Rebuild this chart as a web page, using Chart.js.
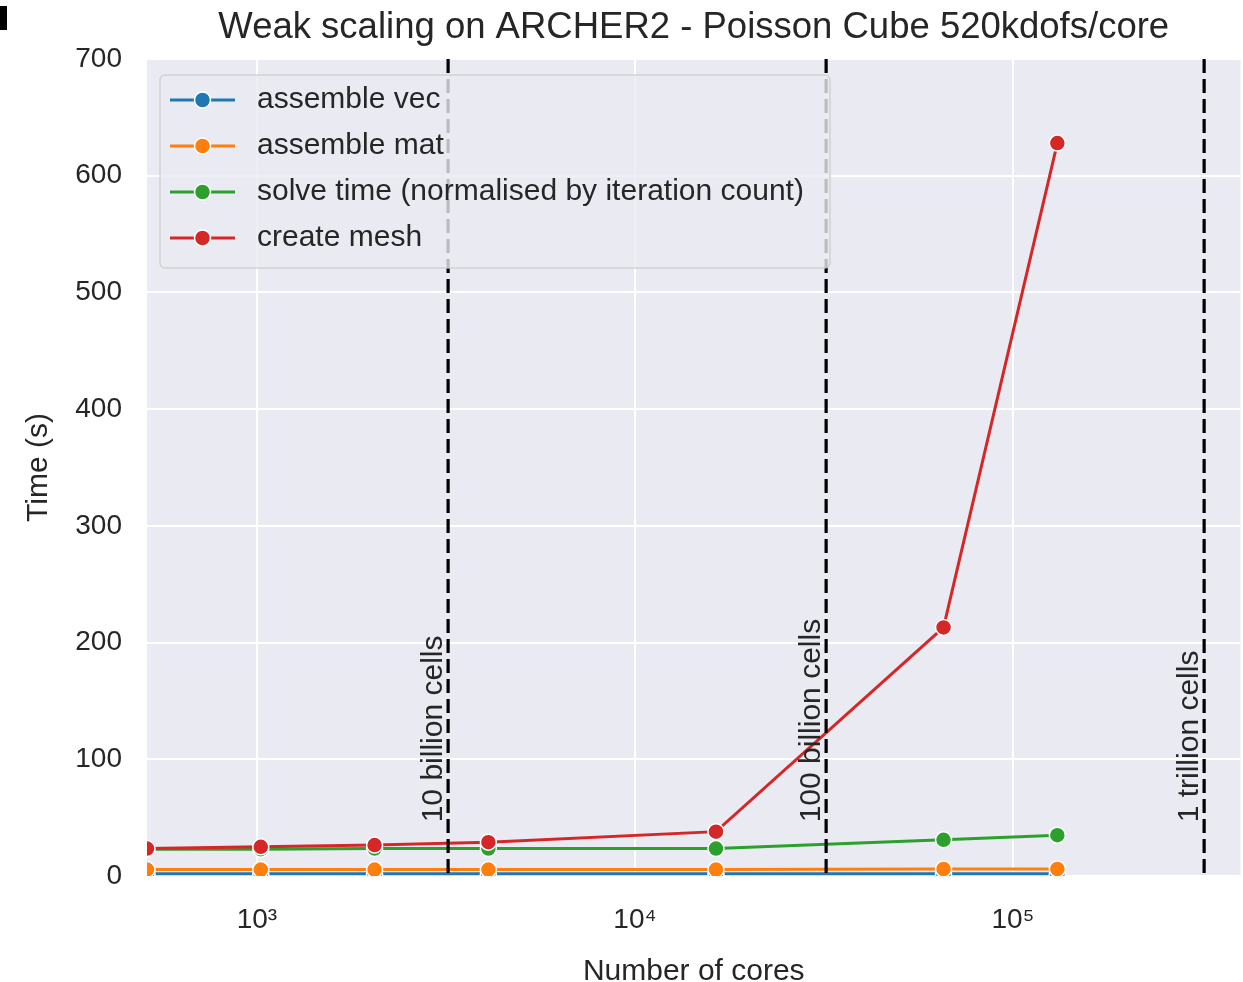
<!DOCTYPE html>
<html>
<head>
<meta charset="utf-8">
<script src="https://cdn.jsdelivr.net/npm/chart.js@4.4.1/dist/chart.umd.min.js"></script>
<style>
  html, body { margin: 0; padding: 0; background: #fff; overflow: hidden; }
  #wrap { position: relative; width: 1243px; height: 982px; overflow: hidden; }
  #mark { position: absolute; left: 0; top: 6px; width: 7px; height: 24px; background: #000; }
</style>
</head>
<body>
<div id="wrap">
  <canvas id="myChart" width="1250" height="982"></canvas>
  <div id="mark"></div>
</div>
<script>
// data arrays
const cores = [512, 1024, 2048, 4096, 16384, 65536, 131072];
const assembleVec = [2, 2, 2, 2, 2, 2, 2];
const assembleMat = [5.5, 5.5, 5.5, 5.5, 5.5, 6, 6];
const solveTime = [23, 23, 23.5, 23.5, 23.5, 31, 35];
const createMesh = [23.5, 25, 26.5, 29, 38, 213, 628];

const seriesNames = ['assemble vec', 'assemble mat', 'solve time (normalised by iteration count)', 'create mesh'];
const seriesColors = ['#1f77b4', '#ff7f0e', '#2ca02c', '#d62728'];

const xTicks = [1e3, 1e4, 1e5];
const cellLines = [3205, 32051, 320513];
const cellLabels = ['10 billion cells', '100 billion cells', '1 trillion cells'];

const FONT = '"Liberation Sans", Arial, sans-serif';
const TEXT = '#262626';
const sup = { 3: '\u00b3', 4: '\u2074', 5: '\u2075' };

const toPoints = vals => vals.map((v, i) => ({ x: cores[i], y: v }));

/**
 * background, reference lines, legend and title
 */
const decorPlugin = {
  id: 'decor',
  beforeDraw(chart) {
    const { ctx, chartArea: a } = chart;
    ctx.save();
    ctx.fillStyle = '#eaeaf2';
    ctx.fillRect(a.left, a.top, a.right - a.left, a.bottom - a.top);
    ctx.restore();
  },
  afterDatasetsDraw(chart) {
    const { ctx, chartArea: a, scales } = chart;
    const xs = scales.x, ys = scales.y;

    // dashed vertical lines + rotated labels
    ctx.save();
    cellLines.forEach((v, i) => {
      const px = xs.getPixelForValue(v);
      ctx.beginPath();
      ctx.setLineDash([14, 6]);
      ctx.strokeStyle = '#000';
      ctx.lineWidth = 3.2;
      ctx.moveTo(px, a.top);
      ctx.lineTo(px, a.bottom);
      ctx.stroke();

      ctx.save();
      ctx.translate(px - 6, ys.getPixelForValue(46));
      ctx.rotate(-Math.PI / 2);
      ctx.fillStyle = TEXT;
      ctx.font = '30px ' + FONT;
      ctx.textAlign = 'left';
      ctx.textBaseline = 'alphabetic';
      ctx.fillText(cellLabels[i], 0, 0);
      ctx.restore();
    });
    ctx.restore();

    // legend box
    ctx.save();
    const bx = 160, by = 75, bw = 670, bh = 193, r = 5;
    ctx.beginPath();
    ctx.moveTo(bx + r, by);
    ctx.arcTo(bx + bw, by, bx + bw, by + bh, r);
    ctx.arcTo(bx + bw, by + bh, bx, by + bh, r);
    ctx.arcTo(bx, by + bh, bx, by, r);
    ctx.arcTo(bx, by, bx + bw, by, r);
    ctx.closePath();
    ctx.fillStyle = 'rgba(234,234,242,0.8)';
    ctx.fill();
    ctx.strokeStyle = 'rgba(204,204,204,0.8)';
    ctx.lineWidth = 1.5;
    ctx.stroke();

    seriesNames.forEach((name, i) => {
      const y = 100 + i * 46;
      ctx.beginPath();
      ctx.strokeStyle = seriesColors[i];
      ctx.lineWidth = 3;
      ctx.moveTo(170, y);
      ctx.lineTo(235, y);
      ctx.stroke();
      ctx.beginPath();
      ctx.arc(202.5, y, 8, 0, Math.PI * 2);
      ctx.fillStyle = seriesColors[i];
      ctx.fill();
      ctx.strokeStyle = '#fff';
      ctx.lineWidth = 1.5;
      ctx.stroke();

      ctx.fillStyle = TEXT;
      ctx.font = '30px ' + FONT;
      ctx.textAlign = 'left';
      ctx.textBaseline = 'middle';
      ctx.fillText(name, 257, y);
    });
    ctx.restore();

    // title
    ctx.save();
    ctx.fillStyle = TEXT;
    ctx.font = '36.5px ' + FONT;
    ctx.textAlign = 'center';
    ctx.textBaseline = 'middle';
    ctx.fillText('Weak scaling on ARCHER2 - Poisson Cube 520kdofs/core', (a.left + a.right) / 2, 28);
    ctx.restore();
  }
};

const datasets = [assembleVec, assembleMat, solveTime, createMesh].map((vals, i) => ({
  label: seriesNames[i],
  data: toPoints(vals),
  borderColor: seriesColors[i],
  backgroundColor: seriesColors[i],
  borderWidth: 3,
  pointRadius: 8,
  pointHoverRadius: 8,
  pointBorderColor: '#fff',
  pointBorderWidth: 1.5,
  tension: 0,
  clip: 0,
  order: 4 - i
}));

const ctx = document.getElementById('myChart').getContext('2d');
const myChart = new Chart(ctx, {
  type: 'line',
  data: { datasets: datasets },
  options: {
    responsive: false,
    animation: false,
    events: [],
    layout: { padding: { top: 59, right: 0, left: 0, bottom: 0 } },
    plugins: {
      legend: { display: false },
      title: { display: false },
      tooltip: { enabled: false }
    },
    scales: {
      x: {
        type: 'logarithmic',
        min: 512,
        max: 400000,
        afterBuildTicks: scale => { scale.ticks = xTicks.map(v => ({ value: v })); },
        afterFit: scale => {
          scale.height = 106;
          scale.paddingLeft = 0;
          scale.paddingRight = 0;
        },
        border: { display: false },
        grid: { color: '#ffffff', lineWidth: 2, drawTicks: false },
        ticks: {
          autoSkip: false,
          maxRotation: 0,
          padding: 27,
          color: TEXT,
          font: { family: FONT, size: 28 },
          callback: v => '10' + sup[Math.round(Math.log10(v))]
        },
        title: {
          display: true,
          text: 'Number of cores',
          color: TEXT,
          font: { family: FONT, size: 30 },
          padding: { top: 0, bottom: -8 }
        }
      },
      y: {
        min: 0,
        max: 700,
        afterFit: scale => { scale.width = 147; },
        border: { display: false },
        grid: { color: '#ffffff', lineWidth: 2, drawTicks: false },
        ticks: {
          stepSize: 100,
          padding: 25,
          color: TEXT,
          font: { family: FONT, size: 28 }
        },
        title: {
          display: true,
          text: 'Time (s)',
          color: TEXT,
          font: { family: FONT, size: 30 },
          padding: { top: 21, bottom: 0 }
        }
      }
    }
  },
  plugins: [decorPlugin]
});
</script>
</body>
</html>
